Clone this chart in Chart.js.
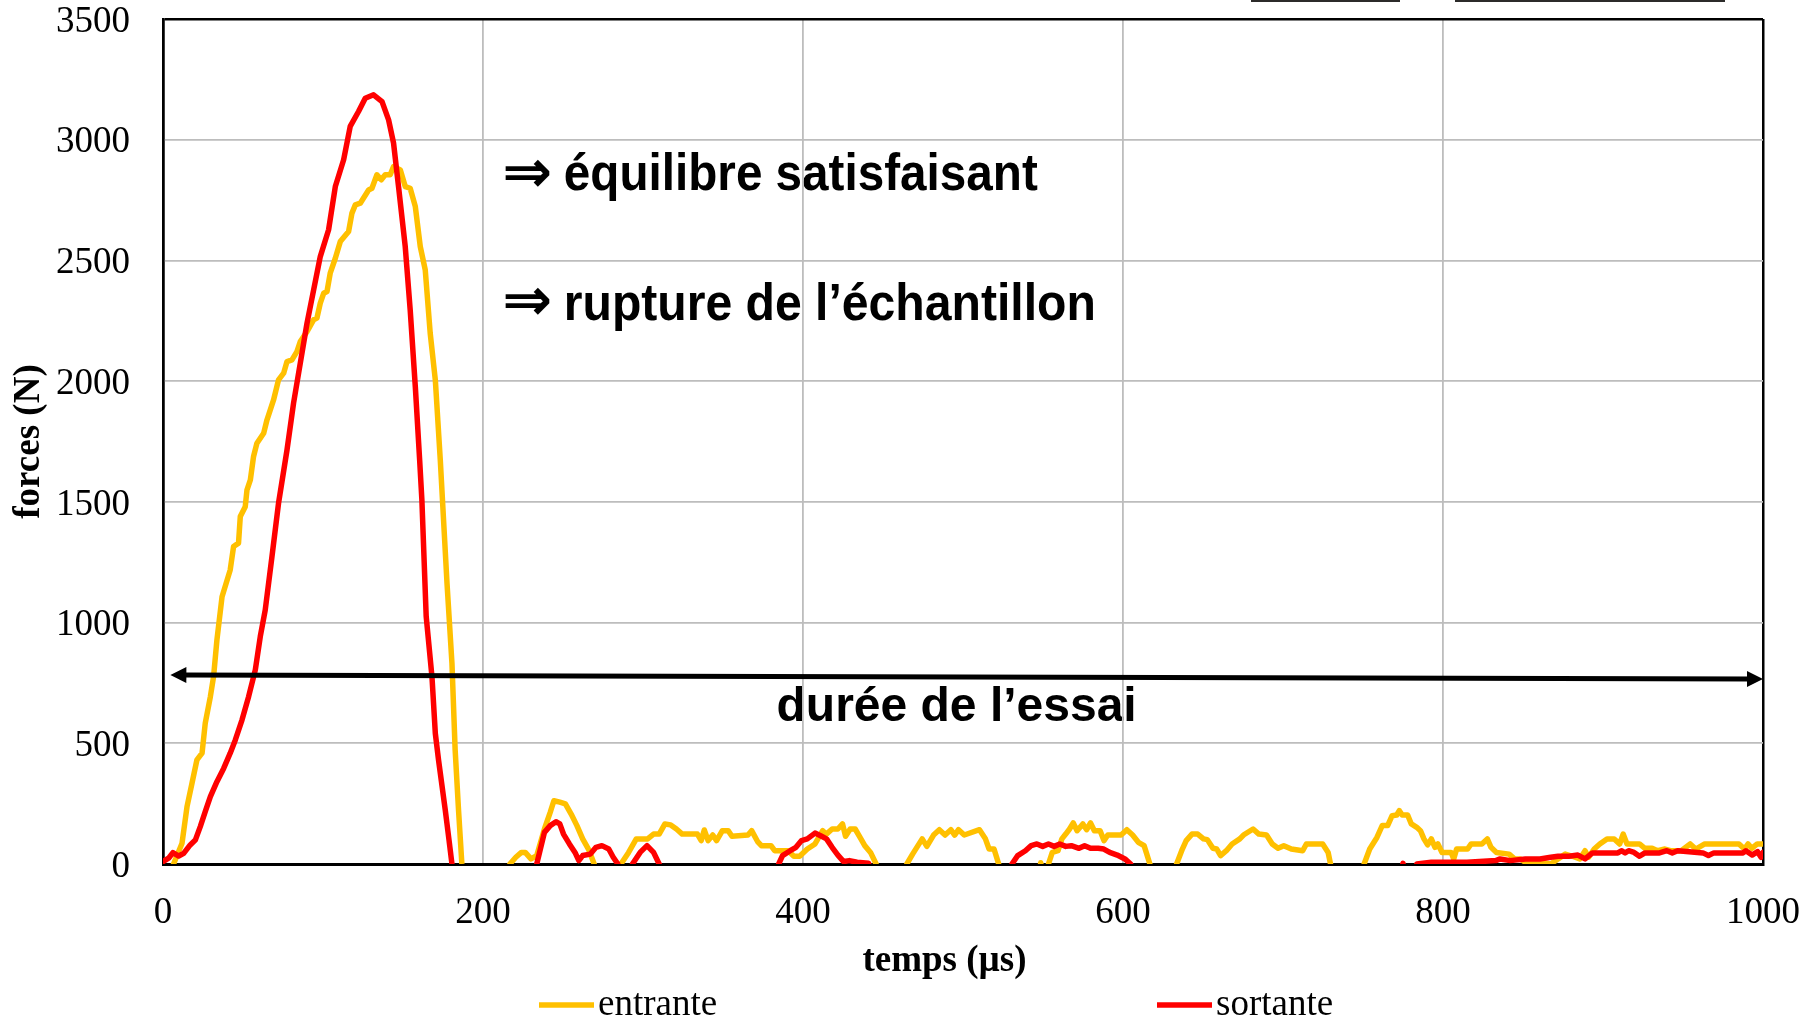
<!DOCTYPE html>
<html>
<head>
<meta charset="utf-8">
<script src="https://cdn.jsdelivr.net/npm/chart.js@4.4.0/dist/chart.umd.min.js"></script>
<style>
  html, body { margin: 0; padding: 0; background: #fff; }
</style>
</head>
<body>
<canvas id="forceChart" width="1818" height="1020"></canvas>
<script>
// temps (µs) / forces (N) ; valeurs < 0 = sous l'axe (masquées)
const entranteTemps = [
  0, 6.6, 11.9, 15, 18.1, 21.2, 24.4, 26.4, 29.6, 31.6, 33.7, 36.9, 42, 44.1, 47.2, 48.3, 51.4, 52.5, 54.6, 56.6,
  58.7, 62.9, 65, 69.1, 72.2, 75.4, 77.5, 80.6, 83.7, 85.8, 90, 94.1, 96.2, 98.3, 100.4, 102.5, 104.5, 107.7, 110.8, 116,
  118.1, 120.2, 123.3, 128.5, 130.6, 133.7, 136.4, 138.9, 142, 144.1, 148.3, 151.4, 154.5, 157.7, 160.8, 163.9, 167, 170.2, 173.3, 177.5,
  180.6, 182.6, 184.7, 186.8, 189, 214, 216.8, 220.5, 224, 226.4, 230, 233.6, 238.4, 242, 244.3, 248, 251.5, 255.1, 258.7, 262.3,
  265.9, 269.5, 272, 283, 286.2, 291, 295.8, 302.9, 306.6, 310.1, 313.7, 317.3, 320.9, 324.5, 334, 336.4, 338.3, 340.7, 343.6, 346,
  349.6, 353.2, 355.6, 365.6, 367.9, 371.6, 374, 380, 382.3, 390.7, 394.3, 397.9, 402.7, 407.5, 412.3, 414.6, 418.2, 421.8, 424.7, 426.6,
  429.5, 432.6, 436.2, 438.6, 442.2, 445.7, 448, 462, 464.9, 468.5, 474.5, 477.4, 481.6, 485.2, 488.8, 492.4, 494.8, 497.2, 500.8, 510.3,
  513.9, 516.3, 519.4, 522.3, 525, 546, 548.6, 551, 553.4, 555.8, 559.4, 561.8, 564.2, 566.6, 568.9, 571.3, 574.9, 577.3, 579.7, 582.1,
  585.7, 588.1, 590.5, 598.8, 602.4, 606, 609.6, 613.2, 616.8, 619, 631, 633.5, 637.1, 639.5, 643.1, 646.7, 650.3, 652.7, 656.2, 658.6,
  661, 664.6, 668.2, 673, 675.3, 681.3, 684.9, 689.7, 693.3, 696.9, 700.5, 705.2, 712.3, 714.6, 724.8, 728.2, 729.7, 732, 748, 750.7,
  754.2, 758.7, 762, 765.4, 768.2, 771.1, 772.7, 774.5, 777.9, 780.2, 783.6, 785.9, 788.1, 790.4, 792.7, 795, 796.8, 799.4, 805.1, 806.7,
  808.5, 815.3, 817.6, 824.3, 827.7, 830, 833.4, 841.3, 844.7, 848.1, 851.5, 860.6, 867.3, 871.9, 876.4, 880.9, 885.5, 888.8, 891, 894.5,
  898, 902.5, 907, 910.4, 912.6, 915, 922.8, 926.2, 930.7, 934.1, 938.7, 942.1, 948.9, 954.5, 958, 963.6, 985, 988.4, 990.7, 993,
  996.4, 1000
];
const entranteForce = [
  -120, 0, 86, 237, 334, 431, 459, 583, 693, 776, 928, 1107, 1218, 1315, 1329, 1439, 1480, 1550, 1591, 1688,
  1743, 1784, 1840, 1922, 2005, 2033, 2081, 2088, 2122, 2164, 2205, 2254, 2261, 2323, 2364, 2371, 2447, 2509, 2578, 2620,
  2696, 2730, 2737, 2792, 2799, 2855, 2834, 2855, 2855, 2889, 2875, 2806, 2799, 2723, 2557, 2461, 2199, 2005, 1674, 1163,
  831, 472, 224, 0, -120, -120, 0, 28, 48, 48, 21, 35, 145, 214, 262, 256, 249, 207, 159, 104,
  62, 0, -100, -100, 0, 48, 104, 104, 124, 124, 166, 162, 145, 124, 124, 97, 141, 97, 120, 97,
  138, 138, 115, 120, 138, 93, 76, 76, 55, 55, 32, 32, 62, 83, 138, 124, 145, 145, 166, 115,
  145, 145, 104, 76, 48, 0, -100, -100, 0, 41, 104, 73, 120, 142, 120, 142, 120, 142, 120, 142,
  106, 62, 62, 0, -100, -100, 5, -100, 0, 48, 55, 104, 124, 145, 170, 138, 166, 142, 170, 138,
  138, 97, 120, 120, 142, 120, 90, 76, 0, -100, -100, 0, 62, 97, 124, 124, 104, 101, 65, 62,
  35, 55, 83, 104, 120, 145, 124, 120, 83, 65, 76, 62, 55, 83, 83, 48, 0, -100, -100, 0,
  62, 110, 159, 159, 200, 203, 221, 203, 203, 166, 152, 138, 104, 79, 104, 69, 83, 48, 48, 21,
  62, 62, 83, 83, 104, 69, 48, 41, 21, 21, 7, 7, 0, 21, 41, 32, 21, 55, 28, 62,
  83, 104, 104, 83, 124, 83, 83, 65, 65, 55, 62, 55, 55, 83, 62, 83, 83, 62, 83, 65,
  83, 83
];
const sortanteTemps = [
  0, 3.5, 6.2, 9.8, 12.9, 17, 20.2, 23.3, 26.4, 29.6, 33.7, 37.9, 42, 45.2, 49.4, 53.5, 57.7, 60.8, 63.9, 68.1,
  72.2, 77.5, 81.6, 90, 98.3, 103.5, 107.7, 112.9, 117, 122.2, 126.4, 131.6, 136.9, 141, 144.1, 147.2, 151.4, 154.5, 157.7, 160.4,
  161.8, 164.5, 168.1, 170.2, 172.2, 176.4, 178.5, 180.6, 183, 231, 233.6, 238.4, 242, 245.6, 248, 250.3, 254, 257.5, 259.9, 262.3,
  267.1, 270.6, 274.3, 278.6, 281.4, 284.3, 287, 291, 293.4, 298.2, 302.5, 306.6, 310.1, 313, 382, 384.8, 387.2, 392, 395.6, 399.1,
  402.7, 407.5, 411, 414.7, 418.2, 421.8, 425.4, 429, 433.8, 441, 444, 528, 530.6, 534.2, 539, 542.6, 546.2, 549.8, 553.4, 557,
  560.5, 564.2, 567.7, 572.5, 576, 579.7, 584.5, 588, 591.7, 596.4, 601.2, 604.8, 607, 770, 775, 778, 781, 783.6, 792.7, 815,
  833, 835.7, 842, 851.5, 860.6, 867.3, 871.9, 878.7, 884.3, 888.8, 893.4, 909.3, 911.5, 913.8, 916, 919.4, 922.8, 926.2, 935.3, 939.9,
  943.3, 946.7, 962.5, 965.9, 969.3, 987.5, 989.3, 993.2, 996.6, 998.8, 1000
];
const sortanteForce = [
  10, 24, 47, 33, 44, 79, 99, 155, 217, 279, 341, 396, 459, 514, 597, 693, 804, 942, 1052, 1273,
  1494, 1715, 1909, 2240, 2516, 2627, 2806, 2917, 3055, 3117, 3172, 3186, 3158, 3082, 2986, 2806, 2557, 2295, 1977, 1674,
  1508, 1025, 776, 541, 431, 224, 113, 0, -120, -120, 0, 131, 159, 175, 166, 124, 83, 48, 14, 35,
  41, 69, 76, 62, 28, 0, -100, -100, 0, 48, 76, 48, 0, -100, -100, 0, 35, 55, 69, 97,
  104, 128, 117, 104, 69, 37, 10, 14, 7, 3, -100, -100, 0, 35, 55, 76, 83, 73, 83, 73,
  83, 73, 76, 65, 76, 65, 65, 62, 48, 37, 21, 0, -100, -100, 3, -100, -100, 0, 7, 7,
  14, 21, 14, 21, 21, 28, 32, 32, 37, 21, 46, 46, 55, 46, 55, 48, 32, 46, 46, 55,
  46, 55, 46, 35, 46, 46, 55, 37, 51, 28, 48
];
const xTicks = [0, 200, 400, 600, 800, 1000];
const yTicks = [0, 500, 1000, 1500, 2000, 2500, 3000, 3500];
const seriesNames = ['entrante', 'sortante'];
const seriesColors = ['#FFC000', '#FF0000'];

const serif = '"Liberation Serif", "Times New Roman", serif';
const sans = '"Liberation Sans", Arial, sans-serif';

function toPoints(xs, ys) {
  return xs.map((x, i) => ({ x: x, y: ys[i] }));
}

// textes et flèche "durée de l'essai"
const decorations = {
  id: 'decorations',
  beforeDraw(chart) {
    const { ctx, scales: { x, y } } = chart;
    ctx.save();
    ctx.fillStyle = '#000';
    ctx.textAlign = 'left';
    // flèches "implique"
    ctx.font = 'bold 60px "DejaVu Sans", sans-serif';
    ctx.textBaseline = 'middle';
    ctx.fillText('\u21D2', x.getPixelForValue(212), y.getPixelForValue(2848), 50);
    ctx.fillText('\u21D2', x.getPixelForValue(212), y.getPixelForValue(2316), 50);
    ctx.textBaseline = 'alphabetic';
    ctx.font = 'bold 52px ' + sans;
    ctx.fillText('équilibre satisfaisant', x.getPixelForValue(250.5), y.getPixelForValue(2792), 474);
    ctx.fillText('rupture de l\u2019échantillon', x.getPixelForValue(250.5), y.getPixelForValue(2254), 532);
    ctx.font = 'bold 48px ' + sans;
    ctx.textAlign = 'center';
    ctx.fillText('durée de l\u2019essai', x.getPixelForValue(496), y.getPixelForValue(592));
    ctx.restore();
  },
  afterDatasetsDraw(chart) {
    const { ctx, scales: { x, y } } = chart;
    const x1 = x.getPixelForValue(4.6), y1 = y.getPixelForValue(783);
    const x2 = x.getPixelForValue(1000), y2 = y.getPixelForValue(766);
    const ang = Math.atan2(y2 - y1, x2 - x1);
    ctx.save();
    ctx.strokeStyle = '#000';
    ctx.fillStyle = '#000';
    ctx.lineWidth = 5;
    ctx.beginPath();
    ctx.moveTo(x1 + 12 * Math.cos(ang), y1 + 12 * Math.sin(ang));
    ctx.lineTo(x2 - 12 * Math.cos(ang), y2 - 12 * Math.sin(ang));
    ctx.stroke();
    [[x1, y1, ang], [x2, y2, ang + Math.PI]].forEach(([px, py, a]) => {
      ctx.beginPath();
      ctx.moveTo(px, py);
      ctx.lineTo(px + 16 * Math.cos(a) - 8 * Math.sin(a), py + 16 * Math.sin(a) + 8 * Math.cos(a));
      ctx.lineTo(px + 16 * Math.cos(a) + 8 * Math.sin(a), py + 16 * Math.sin(a) - 8 * Math.cos(a));
      ctx.closePath();
      ctx.fill();
    });
    ctx.restore();
  },
  afterDraw(chart) {
    const ctx = chart.ctx;
    ctx.save();
    // légende
    const legendX = [539, 1157];
    const legendY = 1005;
    ctx.font = '37px ' + serif;
    ctx.textBaseline = 'middle';
    ctx.textAlign = 'left';
    chart.data.datasets.forEach((ds, i) => {
      ctx.strokeStyle = ds.borderColor;
      ctx.lineWidth = 5.5;
      ctx.beginPath();
      ctx.moveTo(legendX[i], legendY);
      ctx.lineTo(legendX[i] + 55, legendY);
      ctx.stroke();
      ctx.fillStyle = '#000';
      ctx.fillText(ds.label, legendX[i] + 59, legendY);
    });
    // restes d'images en haut
    ctx.fillStyle = '#2c2b2a';
    ctx.fillRect(1251, 0, 149, 2);
    ctx.fillRect(1455, 0, 270, 2);
    ctx.restore();
  }
};

const ctx = document.getElementById('forceChart').getContext('2d');

const chart = new Chart(ctx, {
  type: 'line',
  data: {
    datasets: [
      {
        label: seriesNames[0],
        data: toPoints(entranteTemps, entranteForce),
        borderColor: seriesColors[0],
        order: 1
      },
      {
        label: seriesNames[1],
        data: toPoints(sortanteTemps, sortanteForce),
        borderColor: seriesColors[1],
        order: 0
      }
    ]
  },
  options: {
    responsive: false,
    animation: false,
    clip: 0,
    layout: { padding: { left: 0, right: 0, top: 0, bottom: 36 } },
    elements: {
      line: { borderWidth: 5.5, tension: 0, fill: false, borderJoinStyle: 'round', borderCapStyle: 'round' },
      point: { radius: 0 }
    },
    plugins: {
      legend: { display: false },
      tooltip: { enabled: false }
    },
    scales: {
      x: {
        type: 'linear',
        min: xTicks[0],
        max: xTicks[xTicks.length - 1],
        afterBuildTicks(s) { s.ticks = xTicks.map(v => ({ value: v })); },
        afterFit(s) { s.height = 120; s.paddingRight = 55; s.paddingLeft = 0; },
        ticks: {
          color: '#000',
          font: { family: serif, size: 37 },
          padding: 27,
          maxRotation: 0,
          callback: v => String(v)
        },
        grid: {
          drawTicks: false,
          color: c => (c.tick && (c.tick.value === 1000 || c.tick.value === 0)) ? '#000' : '#bdbdbd',
          lineWidth: c => (c.tick && (c.tick.value === 1000 || c.tick.value === 0)) ? 2.5 : 1.8
        },
        border: { display: true, color: '#000', width: 3 },
        title: {
          display: true,
          text: 'temps (µs)\u00a0\u00a0\u00a0\u00a0',
          color: '#000',
          font: { family: serif, size: 37, weight: 'bold' },
          padding: { top: 0, bottom: 0 }
        }
      },
      y: {
        type: 'linear',
        min: yTicks[0],
        max: yTicks[yTicks.length - 1],
        afterBuildTicks(s) { s.ticks = yTicks.map(v => ({ value: v })); },
        afterFit(s) { s.width = 163; s.paddingTop = 19; s.paddingBottom = 0; },
        ticks: {
          color: '#000',
          font: { family: serif, size: 37 },
          padding: 33,
          labelOffset: 3,
          callback: v => String(v)
        },
        grid: {
          drawTicks: false,
          color: c => (c.tick && (c.tick.value === 3500 || c.tick.value === 0)) ? '#000' : '#bdbdbd',
          lineWidth: c => (c.tick && (c.tick.value === 3500 || c.tick.value === 0)) ? 2.5 : 1.8
        },
        border: { display: true, color: '#000', width: 2.5 },
        title: {
          display: true,
          text: 'forces (N)',
          color: '#000',
          font: { family: serif, size: 37, weight: 'bold' },
          padding: { top: 7, bottom: 0 }
        }
      }
    }
  },
  plugins: [decorations]
});
</script>
</body>
</html>
